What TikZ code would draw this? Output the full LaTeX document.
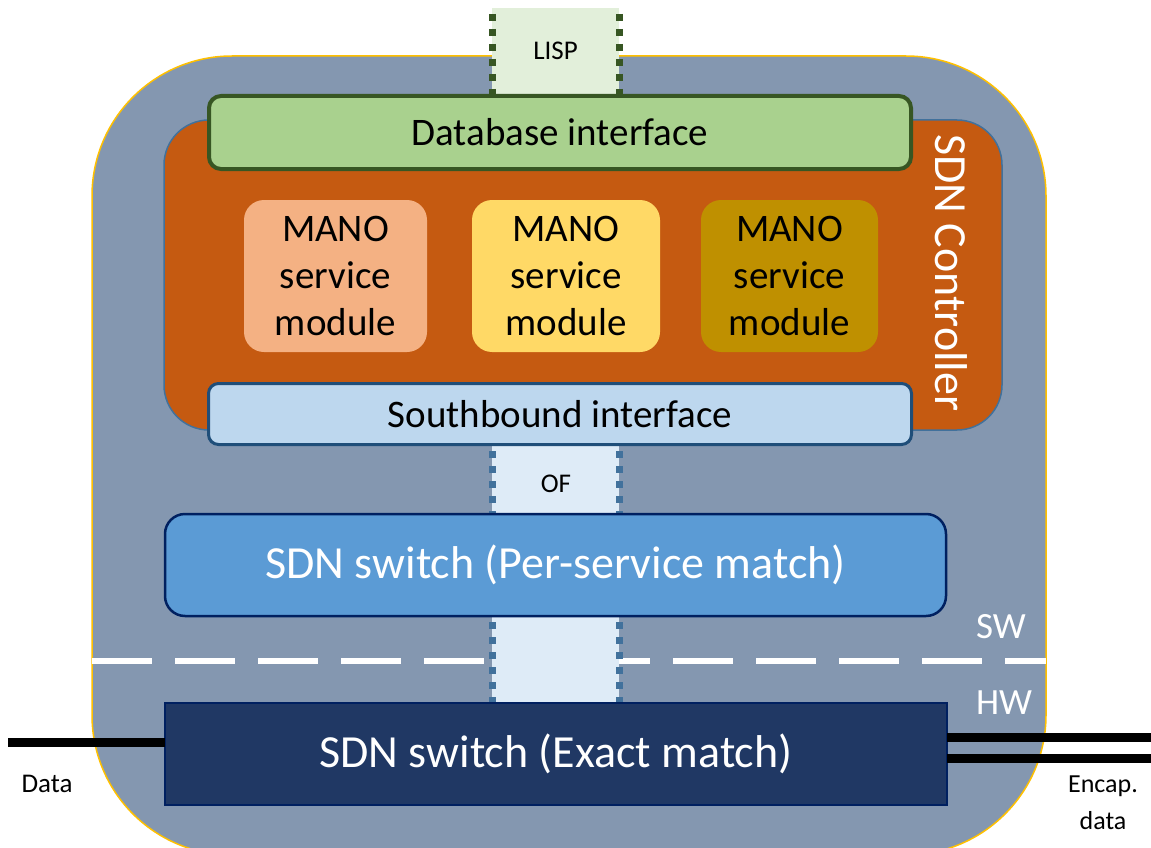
\documentclass[tikz,border=0pt]{standalone}
\usepackage{fontspec}
\setmainfont{Carlito}
\definecolor{outerfill}{HTML}{8497B0}
\definecolor{outerline}{HTML}{FFC000}
\definecolor{ctrlfill}{HTML}{C55A11}
\definecolor{ctrlline}{HTML}{41719C}
\definecolor{dbfill}{HTML}{A9D18E}
\definecolor{dbline}{HTML}{375623}
\definecolor{lispfill}{HTML}{E2EFDA}
\definecolor{manoA}{HTML}{F4B183}
\definecolor{manoB}{HTML}{FFD966}
\definecolor{manoC}{HTML}{BF9000}
\definecolor{sbfill}{HTML}{BDD7EE}
\definecolor{sbline}{HTML}{1F4E79}
\definecolor{offill}{HTML}{DEEBF7}
\definecolor{ofdot}{HTML}{41719C}
\definecolor{pswfill}{HTML}{5B9BD5}
\definecolor{navy}{HTML}{002060}
\definecolor{eswfill}{HTML}{203864}
\begin{document}
\begin{tikzpicture}[x=1pt,y=-1pt,
  box/.style={inner sep=0pt,outer sep=0pt},
  outerbox/.style={box,fill=outerfill,draw=outerline,line width=1.5pt,rounded corners=140pt,minimum width=954pt,minimum height=799pt},
  ctrlbox/.style={box,fill=ctrlfill,draw=ctrlline,line width=1.5pt,rounded corners=45pt,minimum width=838pt,minimum height=310pt},
  dbbox/.style={box,fill=dbfill,draw=dbline,line width=4pt,rounded corners=12pt,minimum width=702pt,minimum height=73pt,font=\fontsize{39}{47}\selectfont},
  manobox/.style={box,rounded corners=20pt,minimum height=152pt,align=center,font=\fontsize{39}{47}\selectfont},
  sbbox/.style={box,fill=sbfill,draw=sbline,line width=3pt,rounded corners=10pt,minimum width=703pt,minimum height=61pt,font=\fontsize{39}{47}\selectfont},
  linkbox/.style={box,minimum width=127pt,font=\fontsize{27}{32}\selectfont},
  lispdots/.style={draw=dbline,line width=7pt,dash pattern=on 7pt off 8pt,dash phase=-6pt},
  ofdots/.style={draw=ofdot,line width=7pt,dash pattern=on 7pt off 8pt,dash phase=-6pt},
  swbox/.style={box,draw=navy,line width=2.5pt,text=white,font=\fontsize{46}{55}\selectfont},
  lbl/.style={box,font=\fontsize{27}{32}\selectfont,align=center},
  wlbl/.style={box,text=white,font=\fontsize{37}{44}\selectfont},
  wire/.style={line width=9pt,black}
]
\useasboundingbox (0,0) rectangle (1151,848);
\clip (0,0) rectangle (1151,848);
\node[outerbox] (outer) at (569,455.5) {};
\node[ctrlbox] (ctrl) at (583,275) {};
\node[box,rotate=-90,text=white,font=\fontsize{46}{55}\selectfont] (ctrllabel) at (951,273) {SDN Controller};
\node[linkbox,fill=lispfill,minimum height=86pt] (lisp) at (555.5,51) {LISP};
\draw[lispdots] (lisp.north west) -- (lisp.south west);
\draw[lispdots] (lisp.north east) -- (lisp.south east);
\node[dbbox] (db) at (560,132.5) {Database interface};
\node[manobox,fill=manoA,minimum width=183pt] (m1) at (335.5,276) {MANO\\service\\module};
\node[manobox,fill=manoB,minimum width=188pt] (m2) at (566,276) {MANO\\service\\module};
\node[manobox,fill=manoC,minimum width=177pt] (m3) at (789.5,276) {MANO\\service\\module};
\node[linkbox,fill=offill,minimum height=70pt] (of) at (555.5,480) {};
\node[lbl] (oflabel) at (556,484) {OF};
\draw[ofdots] (of.north west) -- (of.south west);
\draw[ofdots] (of.north east) -- (of.south east);
\node[sbbox] (sb) at (560,414) {Southbound interface};
\draw[white,line width=6pt,dash pattern=on 60pt off 23pt] (outer.west |- 0,661) coordinate (dl) -- (outer.east |- 0,661) coordinate (dr);
\node[linkbox,fill=offill,minimum height=87pt] (link) at (555.5,659.5) {};
\draw[ofdots] (link.north west) -- (link.south west);
\draw[ofdots] (link.north east) -- (link.south east);
\node[swbox,fill=pswfill,rounded corners=20pt,minimum width=781pt,minimum height=102pt] (psw) at (555.5,565) {SDN switch (Per-service match)};
\node[swbox,fill=eswfill,minimum width=782pt,minimum height=102pt] (esw) at (556,754) {SDN switch (Exact match)};
\node[wlbl] (sw) at (1001,627) {SW};
\node[wlbl] (hw) at (1004,703) {HW};
\coordinate (din) at (8,742);
\coordinate (eout1) at (1151,737);
\coordinate (eout2) at (1151,758);
\draw[wire] (din) -- (esw.west |- din);
\draw[wire] (esw.east |- eout1) -- (eout1);
\draw[wire] (esw.east |- eout2) -- (eout2);
\node[lbl] (data) at (47,784) {Data};
\node[lbl,font=\fontsize{26}{37}\selectfont] (encap) at (1103,803) {Encap.\\data};
\end{tikzpicture}
\end{document}
